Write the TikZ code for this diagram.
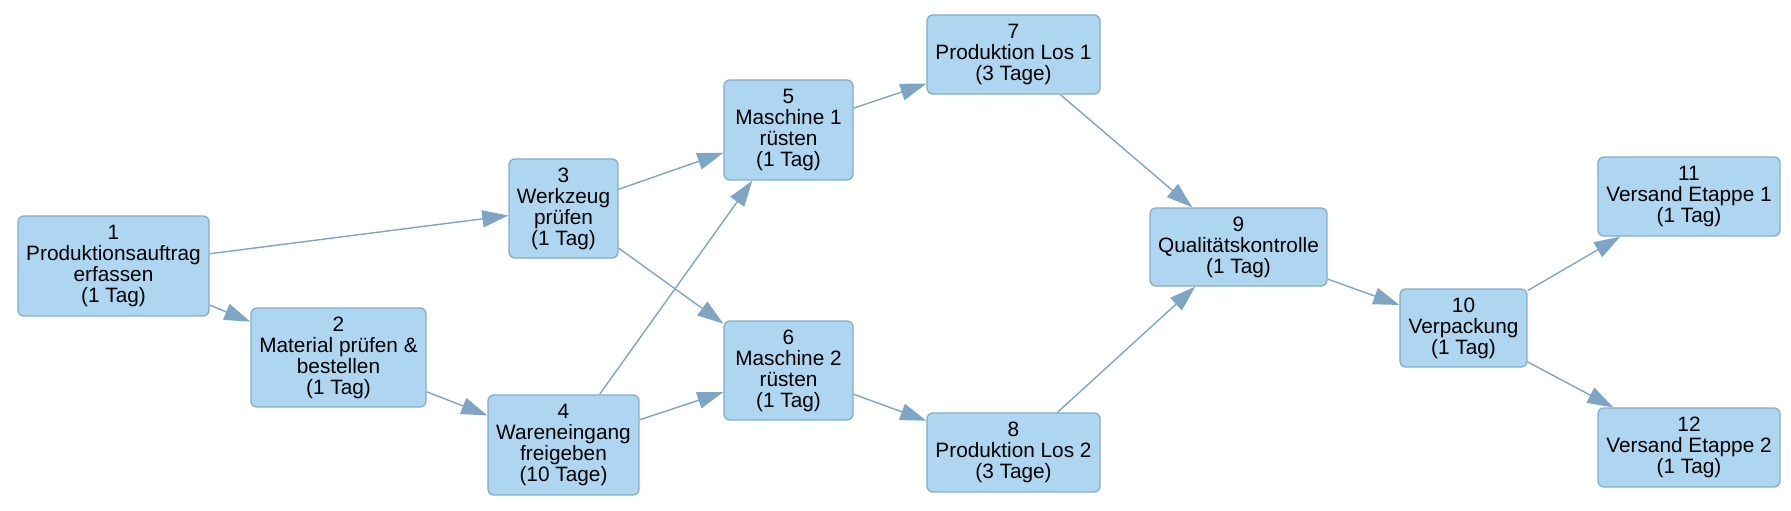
\documentclass[tikz,border=0pt]{standalone}
\usepackage{fontspec}
\setmainfont{Liberation Sans}
\usetikzlibrary{arrows.meta}
\definecolor{boxfill}{HTML}{AED6F1}
\definecolor{boxline}{HTML}{85ABC8}
\definecolor{edgecol}{HTML}{7EA6C4}
\tikzset{
  task/.style={draw=boxline, fill=boxfill, line width=1.3pt, rounded corners=6pt,
    align=center, inner sep=0pt, font=\fontsize{20.8}{21}\selectfont},
  flow/.style={draw=edgecol, line width=1.4pt,
    -{Triangle[length=26pt,width=17pt]}, shorten >=0pt}
}
\begin{document}
\begin{tikzpicture}[x=1pt,y=-1pt]
\useasboundingbox (0,0) rectangle (1791,511);
\node[task, minimum width=191pt, minimum height=100pt] (n1) at (113.5,266) {1\\Produktionsauftrag\\erfassen\\(1 Tag)};
\node[task, minimum width=175pt, minimum height=99pt] (n2) at (338.5,357.5) {2\\Material prüfen \&\\bestellen\\(1 Tag)};
\node[task, minimum width=109pt, minimum height=99pt] (n3) at (563.5,208.5) {3\\Werkzeug\\prüfen\\(1 Tag)};
\node[task, minimum width=151pt, minimum height=100pt] (n4) at (563.5,445) {4\\Wareneingang\\freigeben\\(10 Tage)};
\node[task, minimum width=129pt, minimum height=100pt] (n5) at (788.5,130) {5\\Maschine 1\\rüsten\\(1 Tag)};
\node[task, minimum width=129pt, minimum height=99pt] (n6) at (788.5,370.5) {6\\Maschine 2\\rüsten\\(1 Tag)};
\node[task, minimum width=173pt, minimum height=79pt] (n7) at (1013.5,54.5) {7\\Produktion Los 1\\(3 Tage)};
\node[task, minimum width=173pt, minimum height=79pt] (n8) at (1013.5,452.5) {8\\Produktion Los 2\\(3 Tage)};
\node[task, minimum width=177pt, minimum height=78pt] (n9) at (1238.5,247) {9\\Qualitätskontrolle\\(1 Tag)};
\node[task, minimum width=127pt, minimum height=78pt] (n10) at (1463.5,328) {10\\Verpackung\\(1 Tag)};
\node[task, minimum width=182pt, minimum height=79pt] (n11) at (1689,196.5) {11\\Versand Etappe 1\\(1 Tag)};
\node[task, minimum width=182pt, minimum height=79pt] (n12) at (1689,447.5) {12\\Versand Etappe 2\\(1 Tag)};
\draw[flow] (n1) -- (n3);
\draw[flow] (n1) -- (n2);
\draw[flow] (n2) -- (n4);
\draw[flow] (n3) -- (n5);
\draw[flow] (n3) -- (n6);
\draw[flow] (n4) -- (n5);
\draw[flow] (n4) -- (n6);
\draw[flow] (n5) -- (n7);
\draw[flow] (n6) -- (n8);
\draw[flow] (n7) -- (n9);
\draw[flow] (n8) -- (n9);
\draw[flow] (n9) -- (n10);
\draw[flow] (n10) -- (n11);
\draw[flow] (n10) -- (n12);
\end{tikzpicture}
\end{document}
